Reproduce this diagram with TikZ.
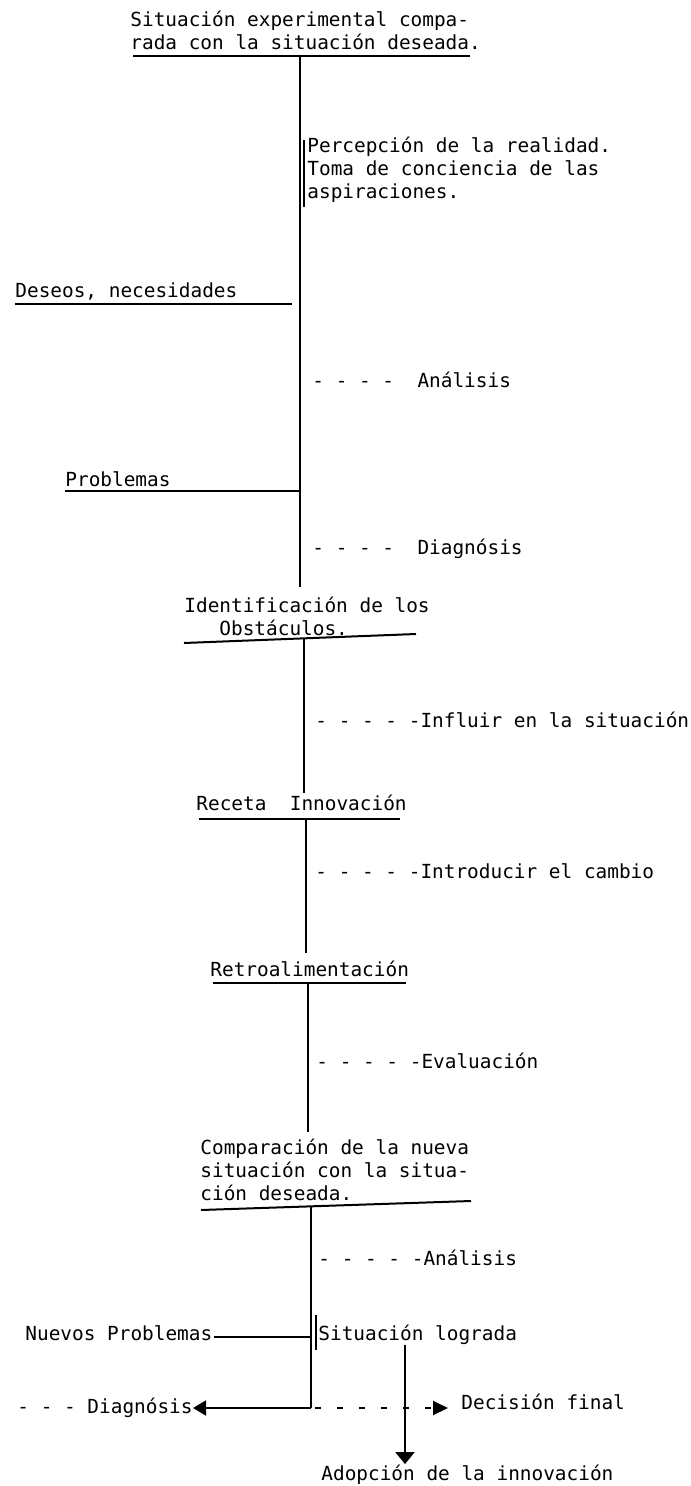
\documentclass[tikz,border=0pt]{standalone}
\usepackage{fontspec}
\usetikzlibrary{arrows.meta}
\newfontfamily\tw{DejaVu Sans Mono}
\tikzset{
  lbl/.style={anchor=base west, inner sep=0pt, align=left,
    font=\tw\fontsize{9.7}{11.5}\selectfont},
  rule/.style={line width=1pt},
  tick/.style={line width=0.7pt},
}
\begin{document}
\begin{tikzpicture}[x=0.5pt, y=-0.5pt]
    \useasboundingbox (0,0) rectangle (690,1486);

    % top (multi-line nodes sit on their last baseline)
    \node[lbl] (sit) at (130,50) {Situación experimental compa-\\rada con la situación deseada.};
    \coordinate (sitL) at (133,56);
    \coordinate (sitR) at (470,56);
    \coordinate (v1a) at (300,56);
    \coordinate (v1b) at (300,587);
    \draw[rule] (sitL) -- (sitR);
    \draw[rule] (v1a) -- (v1b);

    \coordinate (b1a) at (304,140);
    \coordinate (b1b) at (304,207);
    \draw[tick] (b1a) -- (b1b);
    \node[lbl] (perc) at (307,199) {Percepción de la realidad.\\Toma de conciencia de las\\aspiraciones.};

    \node[lbl] (deseos) at (15,298) {Deseos, necesidades};
    \coordinate (desL) at (15,304);
    \coordinate (desR) at (292,304);
    \draw[rule] (desL) -- (desR);

    \node[lbl] (anal) at (312,388) {- - - -\ \ Análisis};

    \node[lbl] (prob) at (65,486) {Problemas};
    \coordinate (probL) at (65,491);
    \coordinate (probR) at (300,491);
    \draw[rule] (probL) -- (probR);

    \node[lbl] (diag) at (312,554) {- - - -\ \ Diagnósis};

    % obstacles
    \node[lbl] (ident) at (184,635) {Identificación de los\\\phantom{Ide}Obstáculos.};
    \coordinate (obsL) at (184,643);
    \coordinate (obsR) at (416,634);
    \coordinate (v2a) at (304,638);
    \coordinate (v2b) at (304,793);
    \draw[rule] (obsL) -- (obsR);
    \draw[rule] (v2a) -- (v2b);

    \node[lbl] (infl) at (315,727) {- - - - -Influir en la situación};

    \node[lbl] (rec) at (196,810) {Receta\ \ Innovación};
    \coordinate (recL) at (199,819);
    \coordinate (recR) at (400,819);
    \coordinate (v3a) at (306,819);
    \coordinate (v3b) at (306,953);
    \draw[rule] (recL) -- (recR);
    \draw[rule] (v3a) -- (v3b);

    \node[lbl] (intro) at (315,878) {- - - - -Introducir el cambio};

    \node[lbl] (retro) at (210,976) {Retroalimentación};
    \coordinate (retL) at (213,983);
    \coordinate (retR) at (406,983);
    \coordinate (v4a) at (308,983);
    \coordinate (v4b) at (308,1132);
    \draw[rule] (retL) -- (retR);
    \draw[rule] (v4a) -- (v4b);

    \node[lbl] (eval) at (316,1068) {- - - - -Evaluación};

    % comparison
    \node[lbl] (comp) at (200,1200) {Comparación de la nueva\\situación con la situa-\\ción deseada.};
    \coordinate (cmpL) at (201,1210);
    \coordinate (cmpR) at (471,1201);
    \coordinate (v5a) at (311,1206);
    \coordinate (base) at (311,1408);
    \draw[rule] (cmpL) -- (cmpR);
    \draw[rule] (v5a) -- (base);

    \node[lbl] (anal2) at (318,1265) {- - - - -Análisis};

    \node[lbl] (nuevos) at (25,1340) {Nuevos Problemas};
    \coordinate (nvL) at (214,1337);
    \coordinate (nvR) at (311,1337);
    \draw[tick] (nvL) -- (nvR);

    \coordinate (b2a) at (316,1315);
    \coordinate (b2b) at (316,1350);
    \draw[tick] (b2a) -- (b2b);
    \node[lbl] (logr) at (318,1340) {Situación lograda};

    \node[lbl] (adop) at (321,1480) {Adopción de la innovación};
    \coordinate (dA) at (405,1345);
    \draw[rule, -{Triangle[length=6pt, width=9.5pt]}] (dA) -- (dA |- adop.north);

    % bottom row
    \node[lbl] (diag2) at (17,1413) {- - - Diagnósis};
    \node[lbl] (decis) at (461,1409) {Decisión final};
    \coordinate (dgTip) at (193,1408);
    \coordinate (dcTip) at (448,1408);
    \draw[rule, -{Triangle[length=6.5pt, width=7.5pt]}] (base) -- (dgTip);
    \draw[rule, dash pattern=on 3pt off 8pt, dash phase=-2pt, -{Triangle[length=7.5pt, width=7pt]}] (base) -- (dcTip);
\end{tikzpicture}
\end{document}
